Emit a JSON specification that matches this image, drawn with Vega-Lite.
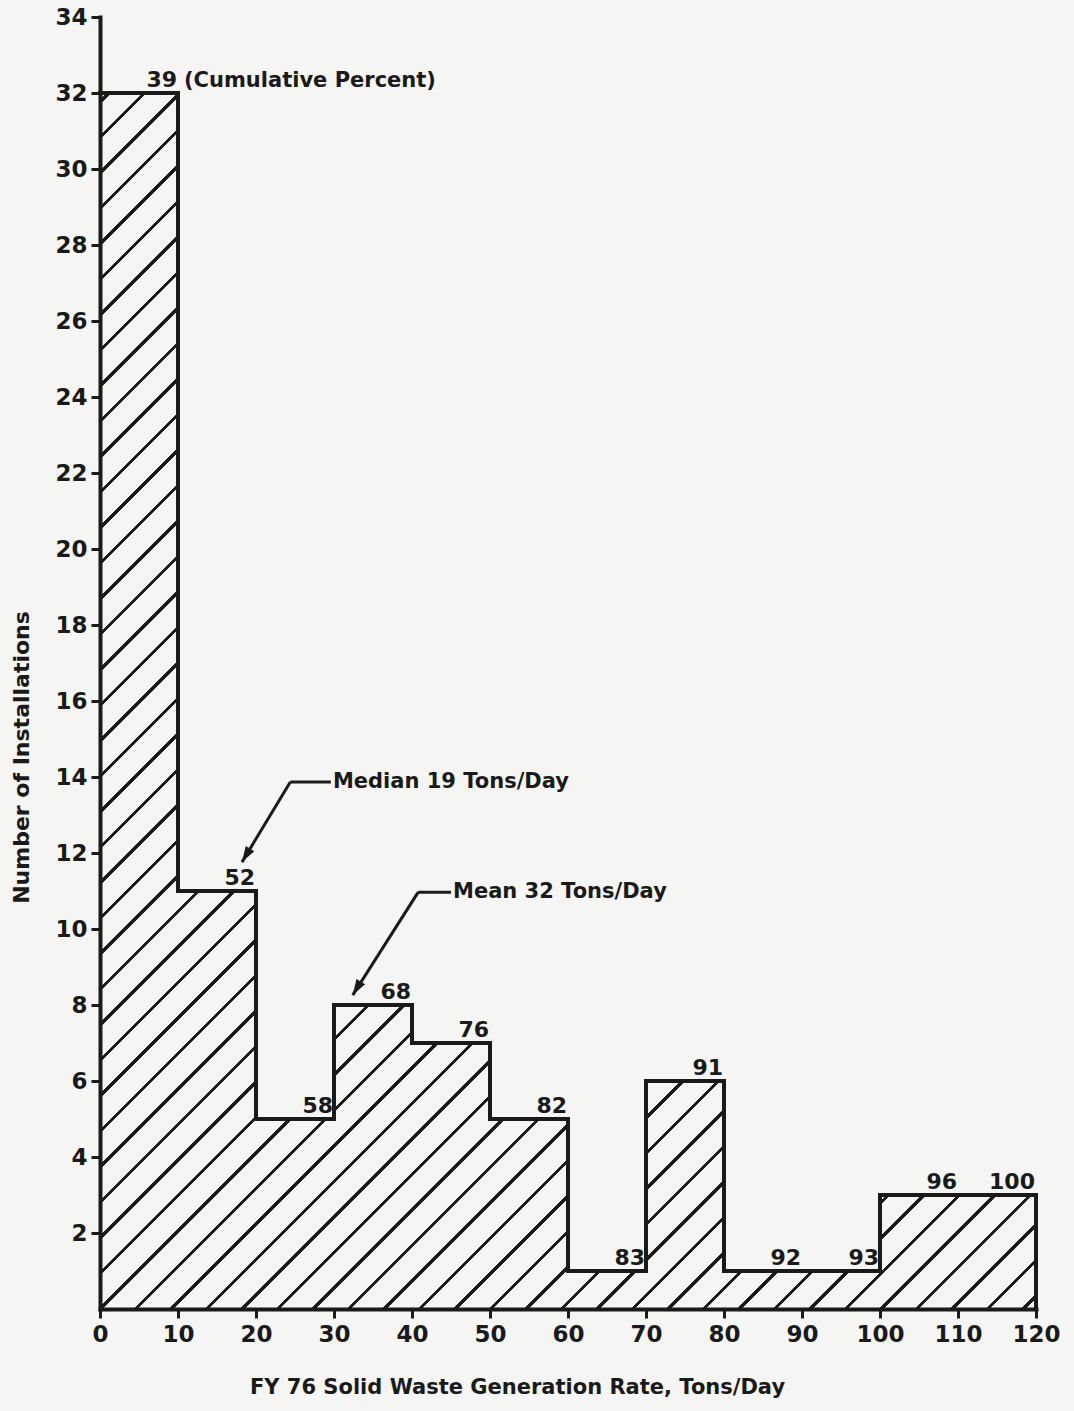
{
"$schema":"https://vega.github.io/schema/vega-lite/v6.json",
"width":936,"height":1292,
"autosize":{"type":"none"},
"padding":{"left":100,"top":17,"right":38,"bottom":102},
"background":"#f5f5f3",
"config":{"view":{"stroke":null},"font":"DejaVu Sans"},
"datasets":{
"bins":[
{"bin_start":0,"bin_end":10,"count":32,"cum":39,"note":"(Cumulative Percent)"},
{"bin_start":10,"bin_end":20,"count":11,"cum":52,"note":""},
{"bin_start":20,"bin_end":30,"count":5,"cum":58,"note":""},
{"bin_start":30,"bin_end":40,"count":8,"cum":68,"note":""},
{"bin_start":40,"bin_end":50,"count":7,"cum":76,"note":""},
{"bin_start":50,"bin_end":60,"count":5,"cum":82,"note":""},
{"bin_start":60,"bin_end":70,"count":1,"cum":83,"note":""},
{"bin_start":70,"bin_end":80,"count":6,"cum":91,"note":""},
{"bin_start":80,"bin_end":90,"count":1,"cum":92,"note":""},
{"bin_start":90,"bin_end":100,"count":1,"cum":93,"note":""},
{"bin_start":100,"bin_end":110,"count":3,"cum":96,"note":""},
{"bin_start":110,"bin_end":120,"count":3,"cum":100,"note":""}
],
"notes":[
{"text":"Median 19 Tons/Day","label_x":29.6,"elbow_x":24.4,"line_y":13.87,"tip_x":18.2,"tip_y":11.76},
{"text":"Mean 32 Tons/Day","label_x":45.0,"elbow_x":40.8,"line_y":10.97,"tip_x":32.4,"tip_y":8.26}
]
},
"data":{"name":"bins"},
"layer":[
{
"transform":[{"aggregate":[{"op":"min","field":"bin_start","as":"x0"},{"op":"max","field":"bin_end","as":"x1"},{"op":"max","field":"count","as":"ymax"}]}],
"mark":{"type":"rect","strokeWidth":0,"fill":{"gradient":"linear","x1":0,"y1":0,"x2":0.85541,"y2":1.1113,"stops":[
{"offset":0,"color":"#f5f5f3"},
{"offset":0.00324,"color":"#f5f5f3"},{"offset":0.00324,"color":"#1a1a1a"},{"offset":0.00513,"color":"#1a1a1a"},{"offset":0.00513,"color":"#f5f5f3"},
{"offset":0.01974,"color":"#f5f5f3"},{"offset":0.01974,"color":"#1a1a1a"},{"offset":0.02162,"color":"#1a1a1a"},{"offset":0.02162,"color":"#f5f5f3"},
{"offset":0.03623,"color":"#f5f5f3"},{"offset":0.03623,"color":"#1a1a1a"},{"offset":0.03812,"color":"#1a1a1a"},{"offset":0.03812,"color":"#f5f5f3"},
{"offset":0.05273,"color":"#f5f5f3"},{"offset":0.05273,"color":"#1a1a1a"},{"offset":0.05462,"color":"#1a1a1a"},{"offset":0.05462,"color":"#f5f5f3"},
{"offset":0.06922,"color":"#f5f5f3"},{"offset":0.06922,"color":"#1a1a1a"},{"offset":0.07111,"color":"#1a1a1a"},{"offset":0.07111,"color":"#f5f5f3"},
{"offset":0.08572,"color":"#f5f5f3"},{"offset":0.08572,"color":"#1a1a1a"},{"offset":0.08761,"color":"#1a1a1a"},{"offset":0.08761,"color":"#f5f5f3"},
{"offset":0.10222,"color":"#f5f5f3"},{"offset":0.10222,"color":"#1a1a1a"},{"offset":0.1041,"color":"#1a1a1a"},{"offset":0.1041,"color":"#f5f5f3"},
{"offset":0.11871,"color":"#f5f5f3"},{"offset":0.11871,"color":"#1a1a1a"},{"offset":0.1206,"color":"#1a1a1a"},{"offset":0.1206,"color":"#f5f5f3"},
{"offset":0.13521,"color":"#f5f5f3"},{"offset":0.13521,"color":"#1a1a1a"},{"offset":0.1371,"color":"#1a1a1a"},{"offset":0.1371,"color":"#f5f5f3"},
{"offset":0.15171,"color":"#f5f5f3"},{"offset":0.15171,"color":"#1a1a1a"},{"offset":0.15359,"color":"#1a1a1a"},{"offset":0.15359,"color":"#f5f5f3"},
{"offset":0.1682,"color":"#f5f5f3"},{"offset":0.1682,"color":"#1a1a1a"},{"offset":0.17009,"color":"#1a1a1a"},{"offset":0.17009,"color":"#f5f5f3"},
{"offset":0.1847,"color":"#f5f5f3"},{"offset":0.1847,"color":"#1a1a1a"},{"offset":0.18659,"color":"#1a1a1a"},{"offset":0.18659,"color":"#f5f5f3"},
{"offset":0.20119,"color":"#f5f5f3"},{"offset":0.20119,"color":"#1a1a1a"},{"offset":0.20308,"color":"#1a1a1a"},{"offset":0.20308,"color":"#f5f5f3"},
{"offset":0.21769,"color":"#f5f5f3"},{"offset":0.21769,"color":"#1a1a1a"},{"offset":0.21958,"color":"#1a1a1a"},{"offset":0.21958,"color":"#f5f5f3"},
{"offset":0.23419,"color":"#f5f5f3"},{"offset":0.23419,"color":"#1a1a1a"},{"offset":0.23607,"color":"#1a1a1a"},{"offset":0.23607,"color":"#f5f5f3"},
{"offset":0.25068,"color":"#f5f5f3"},{"offset":0.25068,"color":"#1a1a1a"},{"offset":0.25257,"color":"#1a1a1a"},{"offset":0.25257,"color":"#f5f5f3"},
{"offset":0.26718,"color":"#f5f5f3"},{"offset":0.26718,"color":"#1a1a1a"},{"offset":0.26907,"color":"#1a1a1a"},{"offset":0.26907,"color":"#f5f5f3"},
{"offset":0.28368,"color":"#f5f5f3"},{"offset":0.28368,"color":"#1a1a1a"},{"offset":0.28556,"color":"#1a1a1a"},{"offset":0.28556,"color":"#f5f5f3"},
{"offset":0.30017,"color":"#f5f5f3"},{"offset":0.30017,"color":"#1a1a1a"},{"offset":0.30206,"color":"#1a1a1a"},{"offset":0.30206,"color":"#f5f5f3"},
{"offset":0.31667,"color":"#f5f5f3"},{"offset":0.31667,"color":"#1a1a1a"},{"offset":0.31856,"color":"#1a1a1a"},{"offset":0.31856,"color":"#f5f5f3"},
{"offset":0.33316,"color":"#f5f5f3"},{"offset":0.33316,"color":"#1a1a1a"},{"offset":0.33505,"color":"#1a1a1a"},{"offset":0.33505,"color":"#f5f5f3"},
{"offset":0.34966,"color":"#f5f5f3"},{"offset":0.34966,"color":"#1a1a1a"},{"offset":0.35155,"color":"#1a1a1a"},{"offset":0.35155,"color":"#f5f5f3"},
{"offset":0.36616,"color":"#f5f5f3"},{"offset":0.36616,"color":"#1a1a1a"},{"offset":0.36804,"color":"#1a1a1a"},{"offset":0.36804,"color":"#f5f5f3"},
{"offset":0.38265,"color":"#f5f5f3"},{"offset":0.38265,"color":"#1a1a1a"},{"offset":0.38454,"color":"#1a1a1a"},{"offset":0.38454,"color":"#f5f5f3"},
{"offset":0.39915,"color":"#f5f5f3"},{"offset":0.39915,"color":"#1a1a1a"},{"offset":0.40104,"color":"#1a1a1a"},{"offset":0.40104,"color":"#f5f5f3"},
{"offset":0.41565,"color":"#f5f5f3"},{"offset":0.41565,"color":"#1a1a1a"},{"offset":0.41753,"color":"#1a1a1a"},{"offset":0.41753,"color":"#f5f5f3"},
{"offset":0.43214,"color":"#f5f5f3"},{"offset":0.43214,"color":"#1a1a1a"},{"offset":0.43403,"color":"#1a1a1a"},{"offset":0.43403,"color":"#f5f5f3"},
{"offset":0.44864,"color":"#f5f5f3"},{"offset":0.44864,"color":"#1a1a1a"},{"offset":0.45053,"color":"#1a1a1a"},{"offset":0.45053,"color":"#f5f5f3"},
{"offset":0.46514,"color":"#f5f5f3"},{"offset":0.46514,"color":"#1a1a1a"},{"offset":0.46702,"color":"#1a1a1a"},{"offset":0.46702,"color":"#f5f5f3"},
{"offset":0.48163,"color":"#f5f5f3"},{"offset":0.48163,"color":"#1a1a1a"},{"offset":0.48352,"color":"#1a1a1a"},{"offset":0.48352,"color":"#f5f5f3"},
{"offset":0.49813,"color":"#f5f5f3"},{"offset":0.49813,"color":"#1a1a1a"},{"offset":0.50001,"color":"#1a1a1a"},{"offset":0.50001,"color":"#f5f5f3"},
{"offset":0.51462,"color":"#f5f5f3"},{"offset":0.51462,"color":"#1a1a1a"},{"offset":0.51651,"color":"#1a1a1a"},{"offset":0.51651,"color":"#f5f5f3"},
{"offset":0.53112,"color":"#f5f5f3"},{"offset":0.53112,"color":"#1a1a1a"},{"offset":0.53301,"color":"#1a1a1a"},{"offset":0.53301,"color":"#f5f5f3"},
{"offset":0.54762,"color":"#f5f5f3"},{"offset":0.54762,"color":"#1a1a1a"},{"offset":0.5495,"color":"#1a1a1a"},{"offset":0.5495,"color":"#f5f5f3"},
{"offset":0.56411,"color":"#f5f5f3"},{"offset":0.56411,"color":"#1a1a1a"},{"offset":0.566,"color":"#1a1a1a"},{"offset":0.566,"color":"#f5f5f3"},
{"offset":0.58061,"color":"#f5f5f3"},{"offset":0.58061,"color":"#1a1a1a"},{"offset":0.5825,"color":"#1a1a1a"},{"offset":0.5825,"color":"#f5f5f3"},
{"offset":0.59711,"color":"#f5f5f3"},{"offset":0.59711,"color":"#1a1a1a"},{"offset":0.59899,"color":"#1a1a1a"},{"offset":0.59899,"color":"#f5f5f3"},
{"offset":0.6136,"color":"#f5f5f3"},{"offset":0.6136,"color":"#1a1a1a"},{"offset":0.61549,"color":"#1a1a1a"},{"offset":0.61549,"color":"#f5f5f3"},
{"offset":0.6301,"color":"#f5f5f3"},{"offset":0.6301,"color":"#1a1a1a"},{"offset":0.63199,"color":"#1a1a1a"},{"offset":0.63199,"color":"#f5f5f3"},
{"offset":0.64659,"color":"#f5f5f3"},{"offset":0.64659,"color":"#1a1a1a"},{"offset":0.64848,"color":"#1a1a1a"},{"offset":0.64848,"color":"#f5f5f3"},
{"offset":0.66309,"color":"#f5f5f3"},{"offset":0.66309,"color":"#1a1a1a"},{"offset":0.66498,"color":"#1a1a1a"},{"offset":0.66498,"color":"#f5f5f3"},
{"offset":0.67959,"color":"#f5f5f3"},{"offset":0.67959,"color":"#1a1a1a"},{"offset":0.68147,"color":"#1a1a1a"},{"offset":0.68147,"color":"#f5f5f3"},
{"offset":0.69608,"color":"#f5f5f3"},{"offset":0.69608,"color":"#1a1a1a"},{"offset":0.69797,"color":"#1a1a1a"},{"offset":0.69797,"color":"#f5f5f3"},
{"offset":0.71258,"color":"#f5f5f3"},{"offset":0.71258,"color":"#1a1a1a"},{"offset":0.71447,"color":"#1a1a1a"},{"offset":0.71447,"color":"#f5f5f3"},
{"offset":0.72908,"color":"#f5f5f3"},{"offset":0.72908,"color":"#1a1a1a"},{"offset":0.73096,"color":"#1a1a1a"},{"offset":0.73096,"color":"#f5f5f3"},
{"offset":0.74557,"color":"#f5f5f3"},{"offset":0.74557,"color":"#1a1a1a"},{"offset":0.74746,"color":"#1a1a1a"},{"offset":0.74746,"color":"#f5f5f3"},
{"offset":0.76207,"color":"#f5f5f3"},{"offset":0.76207,"color":"#1a1a1a"},{"offset":0.76396,"color":"#1a1a1a"},{"offset":0.76396,"color":"#f5f5f3"},
{"offset":0.77856,"color":"#f5f5f3"},{"offset":0.77856,"color":"#1a1a1a"},{"offset":0.78045,"color":"#1a1a1a"},{"offset":0.78045,"color":"#f5f5f3"},
{"offset":0.79506,"color":"#f5f5f3"},{"offset":0.79506,"color":"#1a1a1a"},{"offset":0.79695,"color":"#1a1a1a"},{"offset":0.79695,"color":"#f5f5f3"},
{"offset":0.81156,"color":"#f5f5f3"},{"offset":0.81156,"color":"#1a1a1a"},{"offset":0.81344,"color":"#1a1a1a"},{"offset":0.81344,"color":"#f5f5f3"},
{"offset":0.82805,"color":"#f5f5f3"},{"offset":0.82805,"color":"#1a1a1a"},{"offset":0.82994,"color":"#1a1a1a"},{"offset":0.82994,"color":"#f5f5f3"},
{"offset":0.84455,"color":"#f5f5f3"},{"offset":0.84455,"color":"#1a1a1a"},{"offset":0.84644,"color":"#1a1a1a"},{"offset":0.84644,"color":"#f5f5f3"},
{"offset":0.86105,"color":"#f5f5f3"},{"offset":0.86105,"color":"#1a1a1a"},{"offset":0.86293,"color":"#1a1a1a"},{"offset":0.86293,"color":"#f5f5f3"},
{"offset":0.87754,"color":"#f5f5f3"},{"offset":0.87754,"color":"#1a1a1a"},{"offset":0.87943,"color":"#1a1a1a"},{"offset":0.87943,"color":"#f5f5f3"},
{"offset":0.89404,"color":"#f5f5f3"},{"offset":0.89404,"color":"#1a1a1a"},{"offset":0.89593,"color":"#1a1a1a"},{"offset":0.89593,"color":"#f5f5f3"},
{"offset":0.91054,"color":"#f5f5f3"},{"offset":0.91054,"color":"#1a1a1a"},{"offset":0.91242,"color":"#1a1a1a"},{"offset":0.91242,"color":"#f5f5f3"},
{"offset":0.92703,"color":"#f5f5f3"},{"offset":0.92703,"color":"#1a1a1a"},{"offset":0.92892,"color":"#1a1a1a"},{"offset":0.92892,"color":"#f5f5f3"},
{"offset":0.94353,"color":"#f5f5f3"},{"offset":0.94353,"color":"#1a1a1a"},{"offset":0.94541,"color":"#1a1a1a"},{"offset":0.94541,"color":"#f5f5f3"},
{"offset":0.96002,"color":"#f5f5f3"},{"offset":0.96002,"color":"#1a1a1a"},{"offset":0.96191,"color":"#1a1a1a"},{"offset":0.96191,"color":"#f5f5f3"},
{"offset":0.97652,"color":"#f5f5f3"},{"offset":0.97652,"color":"#1a1a1a"},{"offset":0.97841,"color":"#1a1a1a"},{"offset":0.97841,"color":"#f5f5f3"},
{"offset":0.99302,"color":"#f5f5f3"},{"offset":0.99302,"color":"#1a1a1a"},{"offset":0.9949,"color":"#1a1a1a"},{"offset":0.9949,"color":"#f5f5f3"},
{"offset":1,"color":"#f5f5f3"}
]}},
"encoding":{
"x":{"field":"x0","type":"quantitative","scale":{"domain":[0,120],"nice":false,"zero":true},
"axis":{"values":[0,10,20,30,40,50,60,70,80,90,100,110,120],"title":"FY 76  Solid Waste Generation Rate, Tons/Day","grid":false,"domainColor":"#1a1a1a","domainWidth":4,"domainCap":"square","tickColor":"#1a1a1a","tickWidth":3,"tickSize":9,"labelFontSize":23,"labelFontWeight":"bold","labelColor":"#1a1a1a","labelPadding":5,"labelFlush":false,"labelOverlap":false,"titleFontSize":21,"titleFontWeight":"bold","titleColor":"#1a1a1a","titleX":417,"titleY":67,"titleBaseline":"top","titleAlign":"center","zindex":1}},
"x2":{"field":"x1"},
"y":{"field":"ymax","type":"quantitative","scale":{"domain":[0,34],"nice":false,"zero":true},
"axis":{"values":[2,4,6,8,10,12,14,16,18,20,22,24,26,28,30,32,34],"title":"Number of Installations","grid":false,"domainColor":"#1a1a1a","domainWidth":4,"domainCap":"square","tickColor":"#1a1a1a","tickWidth":3,"tickSize":9,"labelFontSize":23,"labelFontWeight":"bold","labelColor":"#1a1a1a","labelPadding":4,"labelOverlap":false,"labelFlush":false,"titleFontSize":22,"titleFontWeight":"bold","titleColor":"#1a1a1a","titleX":-79,"titleY":740,"titleAngle":-90,"titleBaseline":"middle","titleAlign":"center","zindex":1}},
"y2":{"datum":0}
}
},
{
"mark":{"type":"rect","fill":"#f5f5f3","strokeWidth":0},
"encoding":{
"x":{"field":"bin_start","type":"quantitative"},
"x2":{"field":"bin_end"},
"y":{"field":"count","type":"quantitative"},
"y2":{"datum":34}
}
},
{
"mark":{"type":"rule","color":"#1a1a1a","strokeWidth":4,"strokeCap":"square"},
"encoding":{
"x":{"field":"bin_start","type":"quantitative"},
"x2":{"field":"bin_end"},
"y":{"field":"count","type":"quantitative"}
}
},
{
"transform":[{"window":[{"op":"lag","field":"count","as":"prev"}],"sort":[{"field":"bin_start"}]},{"filter":"datum.bin_start > 0"}],
"mark":{"type":"rule","color":"#1a1a1a","strokeWidth":4,"strokeCap":"square"},
"encoding":{
"x":{"field":"bin_start","type":"quantitative"},
"y":{"field":"prev","type":"quantitative"},
"y2":{"field":"count"}
}
},
{
"transform":[{"joinaggregate":[{"op":"max","field":"bin_end","as":"xmax"}]},{"filter":"datum.bin_end == datum.xmax"}],
"mark":{"type":"rule","color":"#1a1a1a","strokeWidth":4,"strokeCap":"square"},
"encoding":{
"x":{"field":"bin_end","type":"quantitative"},
"y":{"field":"count","type":"quantitative"},
"y2":{"datum":0}
}
},
{
"mark":{"type":"text","align":"right","baseline":"alphabetic","dx":-1,"dy":-6,"fontSize":22,"fontWeight":"bold","color":"#1a1a1a"},
"encoding":{
"x":{"field":"bin_end","type":"quantitative"},
"y":{"field":"count","type":"quantitative"},
"text":{"field":"cum","type":"quantitative"}
}
},
{
"transform":[{"filter":"datum.note"}],
"mark":{"type":"text","align":"left","baseline":"alphabetic","dx":6,"dy":-6,"fontSize":21,"fontWeight":"bold","color":"#1a1a1a"},
"encoding":{
"x":{"field":"bin_end","type":"quantitative"},
"y":{"field":"count","type":"quantitative"},
"text":{"field":"note","type":"nominal"}
}
},
{
"data":{"name":"notes"},
"mark":{"type":"rule","color":"#1a1a1a","strokeWidth":3},
"encoding":{
"x":{"field":"elbow_x","type":"quantitative"},
"x2":{"field":"label_x"},
"y":{"field":"line_y","type":"quantitative"}
}
},
{
"data":{"name":"notes"},
"mark":{"type":"rule","color":"#1a1a1a","strokeWidth":3},
"encoding":{
"x":{"field":"elbow_x","type":"quantitative"},
"y":{"field":"line_y","type":"quantitative"},
"x2":{"field":"tip_x"},
"y2":{"field":"tip_y"}
}
},
{
"data":{"name":"notes"},
"mark":{"type":"point","shape":"M0,0L-0.45,-1.4L0.45,-1.4Z","size":500,"angle":31,"filled":true,"color":"#1a1a1a","opacity":1,"strokeWidth":0},
"encoding":{
"x":{"field":"tip_x","type":"quantitative"},
"y":{"field":"tip_y","type":"quantitative"}
}
},
{
"data":{"name":"notes"},
"mark":{"type":"text","align":"left","baseline":"middle","dx":2,"fontSize":21,"fontWeight":"bold","color":"#1a1a1a"},
"encoding":{
"x":{"field":"label_x","type":"quantitative"},
"y":{"field":"line_y","type":"quantitative"},
"text":{"field":"text","type":"nominal"}
}
}
]
}
